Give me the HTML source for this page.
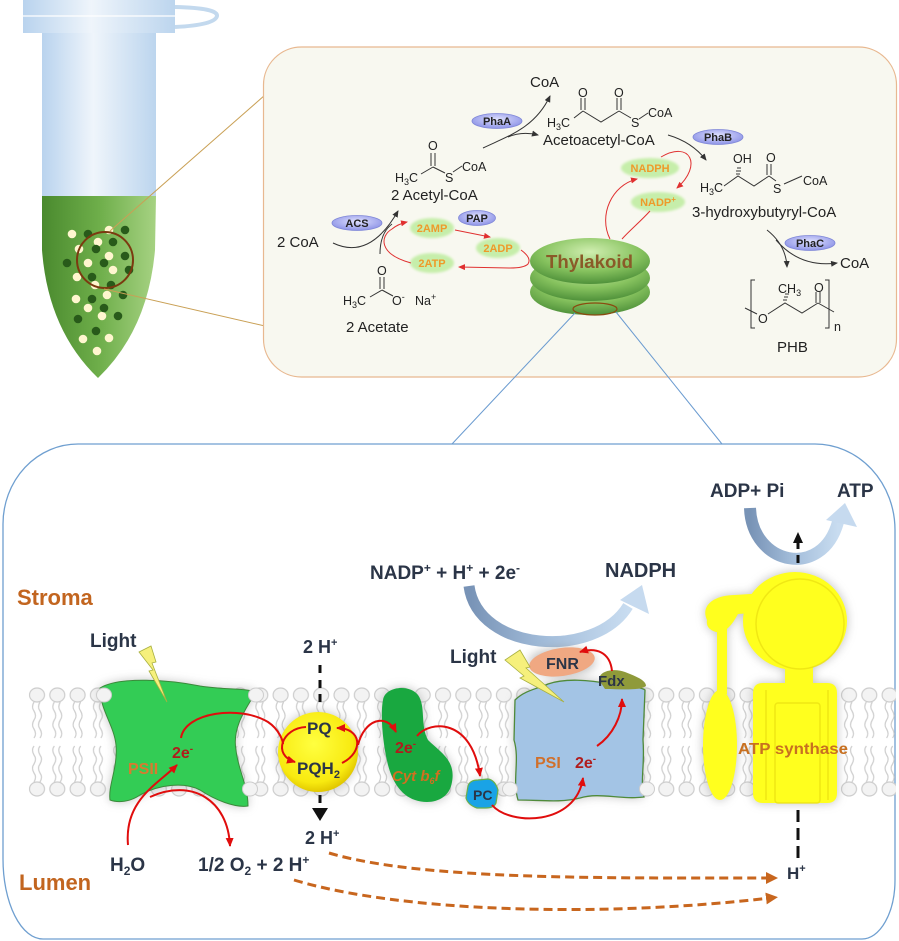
<!DOCTYPE html>
<html><head><meta charset="utf-8"><style>
html,body{margin:0;padding:0;background:#fff}
svg{display:block}
text{font-family:"Liberation Sans",Arial,sans-serif}
.b{font-weight:bold;fill:#2b3547}
</style></head><body>
<svg width="899" height="941" viewBox="0 0 899 941" xmlns="http://www.w3.org/2000/svg" xmlns:xlink="http://www.w3.org/1999/xlink">
<defs>
<linearGradient id="tube" x1="0" x2="1" y1="0" y2="0"><stop offset="0" stop-color="#b9d3ee"/><stop offset="0.45" stop-color="#eff5fb"/><stop offset="1" stop-color="#bcd5ee"/></linearGradient>
<linearGradient id="gr" x1="0" x2="1"><stop offset="0" stop-color="#4a8a2e"/><stop offset="0.5" stop-color="#6eae4a"/><stop offset="1" stop-color="#a6d282"/></linearGradient>
<radialGradient id="disc" cx="0.5" cy="0.3" r="0.7"><stop offset="0" stop-color="#d0eeb0"/><stop offset="0.6" stop-color="#86c25e"/><stop offset="1" stop-color="#4f913a"/></radialGradient>
<radialGradient id="enz" cx="0.5" cy="0.4" r="0.6"><stop offset="0" stop-color="#e0e2ff"/><stop offset="1" stop-color="#8d93e6"/></radialGradient>
<radialGradient id="pq" cx="0.45" cy="0.4" r="0.6"><stop offset="0" stop-color="#ffff40"/><stop offset="0.8" stop-color="#f8ea10"/><stop offset="1" stop-color="#e2c800"/></radialGradient>
<linearGradient id="arc1" x1="0" x2="1"><stop offset="0" stop-color="#7893b6"/><stop offset="0.5" stop-color="#a4bedb"/><stop offset="1" stop-color="#c8dcf0"/></linearGradient>
<filter id="bl" x="-40%" y="-40%" width="180%" height="180%"><feGaussianBlur stdDeviation="5"/></filter>
<filter id="soft" x="-20%" y="-20%" width="140%" height="140%"><feGaussianBlur stdDeviation="1.2"/></filter>
<marker id="mk" markerWidth="8" markerHeight="8" refX="6" refY="3" orient="auto" markerUnits="userSpaceOnUse"><path d="M0,0 L7,3 L0,6 Z" fill="#333"/></marker>
<marker id="mr" markerWidth="8" markerHeight="8" refX="6" refY="3" orient="auto" markerUnits="userSpaceOnUse"><path d="M0,0 L7,3 L0,6 Z" fill="#e03030"/></marker>
<marker id="mR" markerWidth="10" markerHeight="10" refX="8" refY="4" orient="auto" markerUnits="userSpaceOnUse"><path d="M0,0 L9,4 L0,8 Z" fill="#e00d0d"/></marker>
<marker id="mo" markerWidth="14" markerHeight="14" refX="4" refY="6" orient="auto" markerUnits="userSpaceOnUse"><path d="M0,0 L12,6 L0,12 Z" fill="#c8661e"/></marker>
<pattern id="lip" x="27" y="0" width="20.3" height="941" patternUnits="userSpaceOnUse">
<ellipse cx="10" cy="695" rx="7.5" ry="7" fill="#f3f3f3" stroke="#cdcdcd" stroke-width="1.2"/>
<path d="M7,702 q-3,5 0,9 q3,5 0,9 q-3,5 0,9 q3,5 0,9 M13,702 q-3,5 0,9 q3,5 0,9 q-3,5 0,9 q3,5 0,9" fill="none" stroke="#cfcfcf" stroke-width="1.3"/>
<ellipse cx="10" cy="789" rx="7.5" ry="7" fill="#f3f3f3" stroke="#cdcdcd" stroke-width="1.2"/>
<path d="M7,782 q3,-5 0,-9 q-3,-5 0,-9 q3,-5 0,-9 q-3,-5 0,-9 M13,782 q3,-5 0,-9 q-3,-5 0,-9 q3,-5 0,-9 q-3,-5 0,-9" fill="none" stroke="#cfcfcf" stroke-width="1.3"/>
</pattern>
<path id="psii" d="M100,688 C120,676 170,680 200,686 C225,690 245,688 256,692 C245,710 232,728 236,750 C238,770 248,785 248,806 C235,808 215,800 200,790 C185,782 160,784 140,795 C130,802 118,803 110,800 C108,785 118,768 116,745 C114,725 100,710 100,688 Z"/>
<path id="cyt" d="M383,700 C385,686 410,684 418,695 C426,706 420,725 428,740 C440,752 456,760 452,782 C449,801 430,805 415,800 C400,795 392,780 388,765 C383,745 380,715 383,700 Z"/>
<path id="psi" d="M515,700 C525,690 540,688 548,684 C565,678 590,680 610,684 C625,688 640,686 645,690 L643,740 C645,765 640,780 644,797 C620,800 600,792 580,798 C560,803 540,800 518,800 C512,780 520,760 514,740 Z"/>
<path id="atp" d="M763,683 H827 Q837,683 837,693 V793 Q837,803 827,803 H763 Q753,803 753,793 V693 Q753,683 763,683 Z M785,665 H813 V683 H785 Z M847,621 A52,49 0 1 1 743,621 A52,49 0 1 1 847,621 Z M707,620 C700,605 715,595 735,595 L765,593 C776,595 776,610 765,612 L738,614 C732,625 726,633 716,632 C709,630 706,626 707,620 Z M717,628 H727 V694 H717 Z M737,745 A17,55 0 1 1 703,745 A17,55 0 1 1 737,745 Z"/>
</defs>

<!-- ===== TUBE ===== -->
<path d="M175,7 Q218,8 217,16 Q215,25 175,27" fill="none" stroke="#c3d9ee" stroke-width="4"/>
<rect x="23" y="0" width="152" height="33" fill="url(#tube)"/>
<line x1="23" y1="16" x2="175" y2="16" stroke="#ffffff" stroke-width="1.2"/>
<rect x="42" y="33" width="114" height="164" fill="url(#tube)"/>
<path d="M42,196 L156,196 L155,250 Q148,330 98,378 Q48,330 42,250 Z" fill="url(#gr)"/>
<g fill="#fff6cf">
<circle cx="72" cy="234" r="4.3"/><circle cx="109" cy="230" r="4.3"/><circle cx="98" cy="242" r="4.3"/><circle cx="79" cy="249" r="4.3"/><circle cx="109" cy="256" r="4.3"/><circle cx="88" cy="263" r="4.3"/><circle cx="113" cy="270" r="4.3"/><circle cx="77" cy="277" r="4.3"/><circle cx="95" cy="285" r="4.3"/><circle cx="107" cy="295" r="4.3"/><circle cx="76" cy="299" r="4.3"/><circle cx="88" cy="308" r="4.3"/><circle cx="102" cy="316" r="4.3"/><circle cx="83" cy="339" r="4.3"/><circle cx="109" cy="338" r="4.3"/><circle cx="97" cy="351" r="4.3"/>
</g>
<g fill="#285a1a">
<circle cx="88" cy="234" r="4.3"/><circle cx="125" cy="230" r="4.3"/><circle cx="113" cy="242" r="4.3"/><circle cx="96" cy="249" r="4.3"/><circle cx="125" cy="256" r="4.3"/><circle cx="67" cy="263" r="4.3"/><circle cx="104" cy="263" r="4.3"/><circle cx="129" cy="270" r="4.3"/><circle cx="92" cy="277" r="4.3"/><circle cx="111" cy="285" r="4.3"/><circle cx="123" cy="295" r="4.3"/><circle cx="92" cy="299" r="4.3"/><circle cx="104" cy="308" r="4.3"/><circle cx="118" cy="316" r="4.3"/><circle cx="78" cy="319" r="4.3"/><circle cx="96" cy="331" r="4.3"/>
</g>
<circle cx="105" cy="260" r="28" fill="none" stroke="#7b3a10" stroke-width="2"/>
<line x1="110" y1="231" x2="265" y2="95" stroke="#c9a055" stroke-width="1"/>
<line x1="104" y1="289" x2="265" y2="326" stroke="#c9a055" stroke-width="1"/>

<!-- ===== TOP PANEL ===== -->
<rect x="263.5" y="47" width="633" height="330" rx="38" ry="38" fill="#f8f8f0" stroke="#e8b890" stroke-width="1.2"/>

<ellipse cx="590" cy="292" rx="60" ry="23" fill="url(#disc)"/>
<ellipse cx="590" cy="278" rx="60" ry="23" fill="url(#disc)"/>
<ellipse cx="590" cy="261" rx="60" ry="23" fill="url(#disc)"/>
<text x="546" y="268" font-size="18.6" font-weight="bold" fill="#8a5a28" textLength="87" lengthAdjust="spacingAndGlyphs">Thylakoid</text>
<ellipse cx="595" cy="309" rx="22" ry="6" fill="none" stroke="#8a4a10" stroke-width="1.2"/>
<line x1="575" y1="313" x2="452" y2="444" stroke="#6a9bd0" stroke-width="1"/>
<line x1="616" y1="312" x2="722" y2="444" stroke="#6a9bd0" stroke-width="1"/>

<g font-size="15" fill="#222">
<text x="530" y="87">CoA</text>
<text x="277" y="247">2 CoA</text>
<text x="391" y="200">2 Acetyl-CoA</text>
<text x="346" y="332">2 Acetate</text>
<text x="543" y="145">Acetoacetyl-CoA</text>
<text x="692" y="217">3-hydroxybutyryl-CoA</text>
<text x="840" y="268">CoA</text>
<text x="777" y="352">PHB</text>
</g>

<g stroke="#333" stroke-width="1" fill="none">
<path d="M431,153 V166 M435,153 V166 M433,167 L421,174 M433,167 L445,173 M453,172 L462,166"/>
<path d="M380,277 V289 M384,277 V289 M382,290 L370,297 M382,290 L393,296"/>
<path d="M574,118 L583,111 M581,98 V110 M585,98 V110 M583,111 L601,122 L619,111 M617,98 V110 M621,98 V110 M619,111 L631,118 M639,119 L648,113"/>
<path d="M724,186 L738,176 L754,186 L769,176 M767,164 V175 M771,164 V175 M769,176 L776,181 M784,184 L802,176"/>
<path d="M736,174 L740,174 M736,171 L741,171 M737,168 L741,168" stroke-width="1"/>
<path d="M755,280 H751 V328 H755 M825,280 H829 V328 H825 M745,308 L757,314 M768,314 L785,303 L802,313 L818,303 M816,292 V303 M820,292 V303 M818,303 L834,312"/>
<path d="M783,300 L787,300 M784,297 L788,297 M785,294 L789,294"/>
</g>
<g font-size="12.5" fill="#222">
<text x="428" y="150">O</text>
<text x="395" y="182">H<tspan font-size="9" dy="3">3</tspan><tspan dy="-3">C</tspan></text>
<text x="445" y="182">S</text>
<text x="462" y="171">CoA</text>
<text x="377" y="275">O</text>
<text x="343" y="305">H<tspan font-size="9" dy="3">3</tspan><tspan dy="-3">C</tspan></text>
<text x="392" y="305">O<tspan font-size="9" dy="-5">-</tspan></text>
<text x="415" y="305">Na<tspan font-size="9" dy="-5">+</tspan></text>
<text x="578" y="97">O</text>
<text x="614" y="97">O</text>
<text x="547" y="127">H<tspan font-size="9" dy="3">3</tspan><tspan dy="-3">C</tspan></text>
<text x="631" y="127">S</text>
<text x="648" y="117">CoA</text>
<text x="733" y="163">OH</text>
<text x="766" y="162">O</text>
<text x="700" y="192">H<tspan font-size="9" dy="3">3</tspan><tspan dy="-3">C</tspan></text>
<text x="773" y="193">S</text>
<text x="803" y="185">CoA</text>
<text x="778" y="293">CH<tspan font-size="9" dy="3">3</tspan></text>
<text x="814" y="292">O</text>
<text x="758" y="323">O</text>
<text x="834" y="331">n</text>
</g>

<g stroke="#333" stroke-width="1" fill="none">
<path d="M483,148 C508,136 535,128 550,96" marker-end="url(#mk)"/>
<path d="M508,137 Q522,131 538,135" marker-end="url(#mk)"/>
<path d="M333,243 C356,254 378,246 398,211" marker-end="url(#mk)"/>
<path d="M380,254 C380,240 384,230 392,224"/>
<path d="M668,135 Q692,142 706,160" marker-end="url(#mk)"/>
<path d="M767,230 Q786,245 787,267" marker-end="url(#mk)"/>
<path d="M776,240 Q800,268 837,263" marker-end="url(#mk)"/>
</g>

<g font-size="11" font-weight="bold" fill="#222" text-anchor="middle">
<ellipse cx="497" cy="121" rx="25" ry="7.5" fill="url(#enz)" stroke="#8088d8" stroke-width="0.8"/><text x="497" y="125">PhaA</text>
<ellipse cx="357" cy="223" rx="25" ry="7.5" fill="url(#enz)" stroke="#8088d8" stroke-width="0.8"/><text x="357" y="227">ACS</text>
<ellipse cx="477" cy="218" rx="18.5" ry="7.5" fill="url(#enz)" stroke="#8088d8" stroke-width="0.8"/><text x="477" y="222">PAP</text>
<ellipse cx="718" cy="137" rx="25" ry="7.5" fill="url(#enz)" stroke="#8088d8" stroke-width="0.8"/><text x="718" y="141">PhaB</text>
<ellipse cx="810" cy="243" rx="25" ry="7.5" fill="url(#enz)" stroke="#8088d8" stroke-width="0.8"/><text x="810" y="247">PhaC</text>
</g>

<g fill="#c6eeaa" filter="url(#soft)">
<ellipse cx="432" cy="228" rx="22" ry="10"/>
<ellipse cx="498" cy="248" rx="22" ry="10"/>
<ellipse cx="432" cy="263" rx="22" ry="10"/>
<ellipse cx="650" cy="168" rx="29" ry="10"/>
<ellipse cx="658" cy="202" rx="27" ry="10"/>
</g>
<g font-size="11" font-weight="bold" fill="#ee9a2a" text-anchor="middle">
<text x="432" y="232">2AMP</text>
<text x="498" y="252">2ADP</text>
<text x="432" y="267">2ATP</text>
<text x="650" y="172">NADPH</text>
<text x="658" y="206">NADP<tspan font-size="8" dy="-4">+</tspan></text>
</g>

<g stroke="#e03030" stroke-width="1" fill="none">
<path d="M455,230 L490,237" marker-end="url(#mr)"/>
<path d="M521,250 Q532,258 528,264 Q524,268 510,268 L459,267" marker-end="url(#mr)"/>
<path d="M411,263 C378,254 380,236 392,229 Q398,224 407,222" marker-end="url(#mr)"/>
<path d="M610,239 C598,215 612,185 637,179" marker-end="url(#mr)"/>
<path d="M661,157 C690,140 703,165 677,188" marker-end="url(#mr)"/>
<path d="M650,211 C640,222 630,230 622,239"/>
</g>

<!-- ===== BOTTOM PANEL ===== -->
<path d="M78,444 H815 A80,86 0 0 1 895,530 V880 A33,59 0 0 1 862,939 H43 A40,80 0 0 1 3,859 V524 A75,80 0 0 1 78,444 Z" fill="#fff" stroke="#6f9fd0" stroke-width="1.3"/>

<rect x="27" y="684" width="869" height="114" fill="url(#lip)"/>

<text x="17" y="605" font-size="22" font-weight="bold" fill="#c2651f">Stroma</text>
<text x="19" y="890" font-size="22" font-weight="bold" fill="#c2651f">Lumen</text>
<text class="b" x="90" y="647" font-size="19">Light</text>
<text class="b" x="450" y="663" font-size="19">Light</text>

<path d="M469,586 C478,652 595,660 628,606" fill="none" stroke="url(#arc1)" stroke-width="11"/>
<path d="M620,600 L642,585 L649,614 Z" fill="#c6daef"/>
<path d="M750,508 C752,565 822,580 838,522" fill="none" stroke="url(#arc1)" stroke-width="12"/>
<path d="M826,520 L845,503 L857,527 Z" fill="#c6daef"/>

<text class="b" x="370" y="579" font-size="19">NADP<tspan font-size="12" dy="-7">+</tspan><tspan dy="7"> + H</tspan><tspan font-size="12" dy="-7">+</tspan><tspan dy="7"> +  2e</tspan><tspan font-size="12" dy="-7">-</tspan></text>
<text class="b" x="605" y="577" font-size="20">NADPH</text>
<text class="b" x="710" y="497" font-size="19">ADP+ Pi</text>
<text class="b" x="837" y="497" font-size="19">ATP</text>

<!-- glows -->
<g fill="#8c8c8c" opacity="0.55" filter="url(#bl)">
<use xlink:href="#psii" href="#psii"/>
<use xlink:href="#cyt" href="#cyt"/>
<use xlink:href="#psi" href="#psi"/>
<use xlink:href="#atp" href="#atp"/>
<circle cx="318" cy="752" r="40"/>
<ellipse cx="562" cy="662" rx="33" ry="14"/>
<path d="M468,786 L488,779 L498,790 L496,806 L477,808 L466,798 Z"/>
</g>

<!-- PSII -->
<use xlink:href="#psii" href="#psii" fill="#33cc55" stroke="#3a8a3a" stroke-width="1"/>
<ellipse cx="104" cy="695" rx="7.5" ry="7" fill="#f3f3f3" stroke="#cdcdcd"/>
<ellipse cx="256" cy="695" rx="7.5" ry="7" fill="#f3f3f3" stroke="#cdcdcd"/>
<ellipse cx="250" cy="789" rx="7.5" ry="7" fill="#f3f3f3" stroke="#cdcdcd"/>
<path d="M139,652 L151,646 L156,662 L152,663 L167,702 L149,671 L153,670 Z" fill="#f6f07c" stroke="#a8b040" stroke-width="0.8"/>
<text x="172" y="758" font-size="16" font-weight="bold" fill="#b01c1c">2e<tspan font-size="10" dy="-6">-</tspan></text>
<text x="128" y="774" font-size="16" font-weight="bold" fill="#d87a30">PSII</text>

<!-- PQ -->
<g stroke="#111" stroke-width="3" fill="none">
<path d="M320,665 V673 M320,680 V688 M320,694 V702"/>
<path d="M320,795 V803"/>
</g>
<path d="M312,808 L328,808 L320,821 Z" fill="#111"/>
<circle cx="318" cy="752" r="40" fill="url(#pq)"/>
<text class="b" x="307" y="734" font-size="17">PQ</text>
<text class="b" x="297" y="774" font-size="17">PQH<tspan font-size="11" dy="4">2</tspan></text>
<text class="b" x="303" y="653" font-size="18">2 H<tspan font-size="11" dy="-7">+</tspan></text>
<text class="b" x="305" y="844" font-size="18">2 H<tspan font-size="11" dy="-7">+</tspan></text>

<!-- Cyt b6f -->
<use xlink:href="#cyt" href="#cyt" fill="#19a840"/>
<text x="395" y="753" font-size="16" font-weight="bold" fill="#b01c1c">2e<tspan font-size="10" dy="-6">-</tspan></text>
<text x="392" y="781" font-size="15" font-weight="bold" font-style="italic" fill="#d07020">Cyt b<tspan font-size="9" dy="3">6</tspan><tspan dy="-3">f</tspan></text>

<!-- PC -->
<path d="M468,786 Q470,780 478,780 L488,779 Q495,780 498,790 L496,803 Q494,808 486,808 L477,808 Q468,805 466,798 Z" fill="#1aa3e6" stroke="#6ab04a" stroke-width="1.2"/>
<text class="b" x="473" y="800" font-size="14">PC</text>

<!-- PSI -->
<use xlink:href="#psi" href="#psi" fill="#a3c4e5" stroke="#4f8a3a" stroke-width="1.3"/>
<ellipse cx="647" cy="789" rx="7.5" ry="7" fill="#f3f3f3" stroke="#cdcdcd"/>
<ellipse cx="510" cy="789" rx="7.5" ry="7" fill="#f3f3f3" stroke="#cdcdcd"/>
<text x="535" y="768" font-size="16" font-weight="bold" fill="#d0702c">PSI</text>
<text x="575" y="768" font-size="16" font-weight="bold" fill="#b01c1c">2e<tspan font-size="10" dy="-6">-</tspan></text>
<ellipse cx="562" cy="662" rx="33" ry="14" transform="rotate(-8 562 662)" fill="#f0a882"/>
<text class="b" x="546" y="669" font-size="16">FNR</text>
<path d="M599,680 C599,670 615,668 625,672 C635,676 646,680 646,686 C640,691 620,689 605,689 Z" fill="#8f9a3a"/>
<text class="b" x="598" y="686" font-size="15">Fdx</text>
<path d="M505,660 L520,650 L530,667 L526,668 L564,702 L520,678 L524,676 Z" fill="#f6f07c" stroke="#a8b040" stroke-width="0.8"/>

<!-- ATP synthase -->
<use xlink:href="#atp" href="#atp" fill="#ffff1e"/>
<g fill="none" stroke="#ece212" stroke-width="1.5" opacity="0.8">
<rect x="775" y="703" width="45" height="100" rx="3"/>
<path d="M766,690 V800 M828,690 V800"/>
<ellipse cx="800" cy="624" rx="44" ry="45"/>
</g>
<text x="738" y="754" font-size="16" font-weight="bold" fill="#c87020" textLength="110" lengthAdjust="spacingAndGlyphs">ATP synthase</text>
<g stroke="#111" stroke-width="3" fill="none">
<path d="M798,563 V555 M798,549 V541"/>
<path d="M798,810 V822 M798,828 V840 M798,846 V858"/>
</g>
<path d="M793,543 L803,543 L798,532 Z" fill="#111"/>
<text class="b" x="787" y="879" font-size="17">H<tspan font-size="11" dy="-7">+</tspan></text>

<!-- red arrows bottom -->
<g stroke="#e00d0d" stroke-width="2" fill="none">
<path d="M181,738 C185,712 240,705 268,722 C280,730 283,742 283,744"/>
<path d="M306,727 C282,728 272,755 295,762" marker-end="url(#mR)"/>
<path d="M342,763 C364,752 362,728 337,728" marker-end="url(#mR)"/>
<path d="M358,745 C364,720 386,712 396,732" marker-end="url(#mR)"/>
<path d="M417,736 C430,720 472,718 480,776" marker-end="url(#mR)"/>
<path d="M492,805 C510,826 576,826 583,778" marker-end="url(#mR)"/>
<path d="M597,746 C613,735 622,716 622,699" marker-end="url(#mR)"/>
<path d="M612,671 C610,652 596,647 580,652" marker-end="url(#mR)"/>
<path d="M128,845 C124,800 158,784 177,765" marker-end="url(#mR)"/>
<path d="M150,797 C192,778 228,800 230,846" marker-end="url(#mR)"/>
</g>

<text class="b" x="110" y="871" font-size="19">H<tspan font-size="12" dy="4">2</tspan><tspan dy="-4">O</tspan></text>
<text class="b" x="198" y="871" font-size="19">1/2 O<tspan font-size="12" dy="4">2</tspan><tspan dy="-4"> + 2 H</tspan><tspan font-size="12" dy="-7">+</tspan></text>

<g stroke="#c8661e" stroke-width="3" fill="none" stroke-dasharray="9,5">
<path d="M329,853 C420,880 600,878 770,878" marker-end="url(#mo)"/>
<path d="M294,880 C400,912 600,918 770,898" marker-end="url(#mo)"/>
</g>
</svg>
</body></html>
